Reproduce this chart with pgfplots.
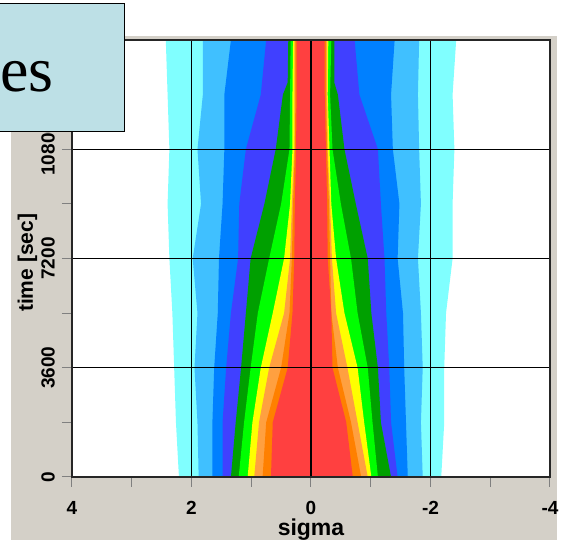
\documentclass[border=0pt]{standalone}
\usepackage{pgfplots}
\pgfplotsset{compat=1.18}
\usepackage{fontspec}
\setmainfont{Liberation Sans}
\newfontfamily\seriffont{Liberation Serif}
\definecolor{panelgray}{RGB}{212,208,200}
\definecolor{boxblue}{RGB}{189,224,230}
\definecolor{bcyan}{RGB}{128,255,255}
\definecolor{blblue}{RGB}{64,192,255}
\definecolor{bblue}{RGB}{0,128,255}
\definecolor{bviolet}{RGB}{64,64,255}
\definecolor{bdgreen}{RGB}{0,160,0}
\definecolor{bgreen}{RGB}{0,255,0}
\definecolor{byellow}{RGB}{255,255,0}
\definecolor{blorange}{RGB}{255,160,64}
\definecolor{borange}{RGB}{255,128,0}
\definecolor{bred}{RGB}{255,64,64}
\begin{document}
\begin{tikzpicture}
\useasboundingbox (0,0) rectangle (566pt,545pt);
\fill[white] (0,0) rectangle (566pt,545pt);
\fill[panelgray] (11pt,5pt) rectangle (557pt,509pt);
\begin{axis}[
  at={(72pt,68pt)}, anchor=south west,
  scale only axis, width=478pt, height=437pt,
  x dir=reverse,
  xmin=-4, xmax=4, ymin=0, ymax=14400,
  xtick={-4,-2,0,2,4}, xticklabels={-4,-2,0,2,4},
  minor xtick={-3,-1,1,3},
  ytick={0,3600,7200,10800}, yticklabels={0,3600,7200,10800},
  minor ytick={1800,5400,9000,12600},
  tick pos=left,
  tick align=outside,
  major tick length=10pt, minor tick length=10pt,
  every tick/.style={gray, line width=1pt},
  grid=major,
  major grid style={black, line width=1.2pt},
  axis on top,
  axis line style={black!85, line width=1.5pt},
  axis background/.style={fill=white},
  ticklabel style={font=\bfseries\fontsize{19}{19}\selectfont, inner sep=0pt},
  yticklabel style={rotate=90, anchor=south},
  xticklabel style={anchor=north},
  xticklabel shift=14pt,
  yticklabel shift=7pt,
  xlabel={sigma},
  xlabel style={at={(axis description cs:0.5,0)}, anchor=base, yshift=-59pt, font=\bfseries\fontsize{23}{23}\selectfont, inner sep=0pt},
  ylabel={time [sec]},
  ylabel style={at={(axis description cs:0,0.49)}, anchor=base, yshift=39pt, font=\bfseries\fontsize{21}{21}\selectfont, inner sep=0pt},
]
% cyan
\addplot[fill=bcyan, draw=none] coordinates {
(2.43,14400)(2.40,12600)(2.37,10800)(2.40,9000)(2.37,7200)(2.32,5400)(2.29,3600)(2.26,1800)(2.21,0)
(-2.18,0)(-2.23,1800)(-2.23,3600)(-2.26,5400)(-2.37,7200)(-2.37,9000)(-2.40,10800)(-2.37,12600)(-2.43,14400)} -- cycle;
% light blue
\addplot[fill=blblue, draw=none] coordinates {
(1.81,14400)(1.81,12600)(1.90,10800)(1.84,9000)(1.98,7200)(1.90,5400)(1.95,3600)(1.90,1800)(1.88,0)
(-1.87,0)(-1.84,1800)(-1.87,3600)(-1.84,5400)(-1.79,7200)(-1.84,9000)(-1.81,10800)(-1.79,12600)(-1.81,14400)} -- cycle;
% blue
\addplot[fill=bblue, draw=none] coordinates {
(1.34,14400)(1.45,12600)(1.45,10800)(1.48,9000)(1.54,7200)(1.56,5400)(1.62,3600)(1.65,1800)(1.65,0)
(-1.62,0)(-1.59,1800)(-1.56,3600)(-1.54,5400)(-1.45,7200)(-1.48,9000)(-1.37,10800)(-1.34,12600)(-1.40,14400)} -- cycle;
% violet
\addplot[fill=bviolet, draw=none] coordinates {
(0.75,14400)(0.84,12600)(1.09,10800)(1.20,9000)(1.22,7200)(1.34,5400)(1.42,3600)(1.48,1800)(1.48,0)
(-1.45,0)(-1.34,1800)(-1.31,3600)(-1.26,5400)(-1.23,7200)(-1.17,9000)(-1.12,10800)(-0.81,12600)(-0.73,14400)} -- cycle;
% dark green
\addplot[fill=bdgreen, draw=none] coordinates {
(0.38,14400)(0.39,13000)(0.47,12600)(0.59,10800)(0.78,9000)(1.01,7200)(1.09,5400)(1.17,3600)(1.26,1800)(1.34,0)
(-1.34,0)(-1.17,1800)(-1.12,3600)(-1.01,5400)(-0.95,7200)(-0.75,9000)(-0.56,10800)(-0.45,12600)(-0.39,13000)(-0.39,14400)} -- cycle;
% green
\addplot[fill=bgreen, draw=none] coordinates {
(0.34,14400)(0.35,12600)(0.36,10800)(0.50,9000)(0.70,7200)(0.89,5400)(1.01,3600)(1.12,1800)(1.21,0)
(-1.12,0)(-1.03,1800)(-0.95,3600)(-0.78,5400)(-0.67,7200)(-0.50,9000)(-0.36,10800)(-0.32,12600)(-0.34,14400)} -- cycle;
% yellow
\addplot[fill=byellow, draw=none] coordinates {
(0.30,14400)(0.31,12600)(0.31,10800)(0.35,9000)(0.45,7200)(0.64,5400)(0.84,3600)(0.98,1800)(1.06,0)
(-1.01,0)(-0.89,1800)(-0.78,3600)(-0.56,5400)(-0.42,7200)(-0.34,9000)(-0.31,10800)(-0.28,12600)(-0.29,14400)} -- cycle;
% light orange
\addplot[fill=blorange, draw=none] coordinates {
(0.28,14400)(0.28,12600)(0.28,10800)(0.32,9000)(0.35,7200)(0.45,5400)(0.70,3600)(0.87,1800)(0.95,0)
(-0.95,0)(-0.78,1800)(-0.61,3600)(-0.42,5400)(-0.35,7200)(-0.32,9000)(-0.28,10800)(-0.27,12600)(-0.27,14400)} -- cycle;
% orange
\addplot[fill=borange, draw=none] coordinates {
(0.26,14400)(0.26,12600)(0.27,10800)(0.30,9000)(0.32,7200)(0.36,5400)(0.50,3600)(0.75,1800)(0.81,0)
(-0.84,0)(-0.67,1800)(-0.45,3600)(-0.34,5400)(-0.32,7200)(-0.30,9000)(-0.27,10800)(-0.25,12600)(-0.25,14400)} -- cycle;
% red
\addplot[fill=bred, draw=none] coordinates {
(0.24,14400)(0.24,12600)(0.25,10800)(0.27,9000)(0.28,7200)(0.31,5400)(0.39,3600)(0.64,1800)(0.67,0)
(-0.70,0)(-0.59,1800)(-0.36,3600)(-0.34,5400)(-0.28,7200)(-0.27,9000)(-0.25,10800)(-0.23,12600)(-0.23,14400)} -- cycle;
\end{axis}
\draw[fill=boxblue, line width=1pt] (-5pt,413pt) rectangle (124pt,541pt);
\node[anchor=base east, inner sep=0pt, font=\seriffont\fontsize{64}{64}\selectfont] at (54pt,453pt) {es};
\end{tikzpicture}
\end{document}
